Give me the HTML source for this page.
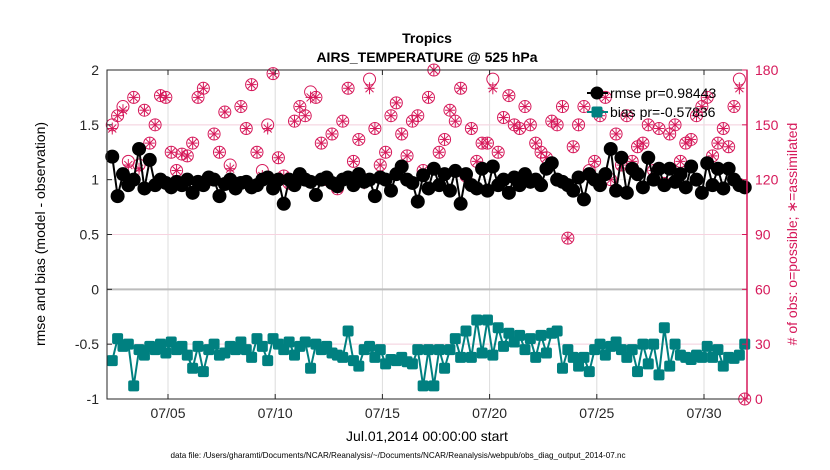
<!DOCTYPE html>
<html><head><meta charset="utf-8"><style>
body{margin:0;background:#fff;}
svg{display:block;font-family:"Liberation Sans",Arial,sans-serif;}
</style></head><body>
<svg id="chart" width="830" height="470" viewBox="0 0 830 470">
<g id="grid"></g>
<g id="marks"></g>
<g id="axes"></g>
<text x="427" y="43" text-anchor="middle" font-size="14" font-weight="bold">Tropics</text>
<text x="427" y="62" text-anchor="middle" font-size="14" font-weight="bold">AIRS_TEMPERATURE @ 525 hPa</text>
<text x="427" y="441" text-anchor="middle" font-size="14">Jul.01,2014 00:00:00 start</text>
<text x="398" y="458" text-anchor="middle" font-size="8.1">data file: /Users/gharamti/Documents/NCAR/Reanalysis/~/Documents/NCAR/Reanalysis/webpub/obs_diag_output_2014-07.nc</text>
<text transform="translate(45,234) rotate(-90)" text-anchor="middle" font-size="14">rmse and bias (model - observation)</text>
<text transform="translate(797,234) rotate(-90)" text-anchor="middle" font-size="14" fill="#d6195a"># of obs: o=possible; ∗=assimilated</text>
<g id="legend"></g>
</svg>
<script>
const rmse=[1.21,0.85,1.05,0.95,1.0,1.28,0.92,1.18,0.95,1.0,0.97,0.93,0.98,0.95,1.0,0.88,0.98,0.95,1.02,1.0,0.85,0.96,1.0,0.92,0.97,0.98,0.93,0.95,1.0,1.02,
0.92,1.0,0.78,1.0,0.95,1.05,1.0,0.98,0.86,1.0,1.02,0.97,0.94,1.0,1.02,0.95,1.05,0.98,1.0,0.85,1.02,1.0,0.9,1.05,1.12,1.0,0.97,0.8,1.04,0.92,
1.1,0.95,1.05,0.9,1.08,0.78,1.05,0.95,0.92,1.1,0.9,1.12,0.95,1.0,0.88,1.02,0.95,1.05,0.98,1.0,0.95,1.1,1.15,1.0,0.98,0.95,0.9,1.02,0.82,1.05,
1.0,0.95,1.05,1.28,0.9,1.2,0.88,1.1,1.05,0.93,1.2,1.0,1.1,0.95,1.1,0.98,1.05,0.93,1.12,1.0,0.88,1.15,0.95,1.1,0.92,1.1,1.0,0.95,0.93];
const bias=[-0.65,-0.45,-0.52,-0.5,-0.88,-0.55,-0.6,-0.52,-0.55,-0.5,-0.58,-0.48,-0.55,-0.52,-0.6,-0.72,-0.52,-0.75,-0.55,-0.5,-0.6,-0.58,-0.52,-0.55,-0.48,-0.55,-0.62,-0.45,-0.52,-0.65,
-0.45,-0.5,-0.55,-0.48,-0.6,-0.52,-0.48,-0.72,-0.5,-0.55,-0.52,-0.58,-0.6,-0.62,-0.38,-0.65,-0.7,-0.55,-0.52,-0.62,-0.55,-0.68,-0.64,-0.65,-0.62,-0.66,-0.68,-0.55,-0.88,-0.55,
-0.88,-0.55,-0.72,-0.55,-0.45,-0.62,-0.38,-0.62,-0.28,-0.58,-0.28,-0.6,-0.35,-0.52,-0.4,-0.48,-0.42,-0.55,-0.45,-0.62,-0.42,-0.58,-0.4,-0.38,-0.72,-0.55,-0.62,-0.7,-0.62,-0.75,
-0.55,-0.5,-0.6,-0.52,-0.48,-0.55,-0.62,-0.55,-0.75,-0.5,-0.68,-0.5,-0.78,-0.35,-0.7,-0.5,-0.6,-0.62,-0.64,-0.6,-0.62,-0.52,-0.62,-0.55,-0.7,-0.62,-0.63,-0.6,-0.5];
const possible=[150,155,160,130,165,128,158,140,150,166,165,135,125,134,133,140,165,170,120,145,135,157,128,118,160,148,172,135,125,150,
178,132,122,118,152,160,155,168,165,140,120,145,115,152,170,130,142,120,175,148,128,135,155,162,145,133,152,155,125,165,
180,135,142,158,152,170,122,148,130,140,140,175,135,154,166,150,148,160,150,140,135,132,152,150,160,88,138,150,160,125,
130,155,165,120,145,128,155,130,138,140,150,125,148,118,145,150,130,140,142,155,160,165,133,140,148,138,160,175,0];
const assimilated=[148,155,158,128,165,126,158,140,150,166,165,135,125,134,133,140,165,170,120,145,135,157,126,118,160,148,172,135,122,148,
178,132,122,118,152,160,155,165,165,140,120,145,115,152,170,130,142,118,170,148,128,135,155,162,145,133,152,155,125,165,
180,135,142,158,152,170,122,148,130,140,140,170,135,154,166,150,148,160,150,140,135,132,152,150,160,88,138,150,160,122,
130,155,165,120,145,128,155,130,138,140,150,125,148,118,145,150,130,140,142,155,160,165,133,140,148,138,160,170,0];
const dayTicks=[5,10,15,20,25,30];
const dayLabels=["07/05","07/10","07/15","07/20","07/25","07/30"];
const leftTicks=[-1,-0.5,0,0.5,1,1.5,2];
const rightTicks=[0,30,60,90,120,150,180];

const NS="http://www.w3.org/2000/svg";
const L=107,R=747,T=70,B=399;
const firstDay=2.4, stepDay=0.25;
const xDay=d=>168+(d-5)*21.44;
const xi=i=>xDay(firstDay+i*stepDay);
const yL=v=>B-(v+1)/3*(B-T);
const yR=v=>B-v/180*(B-T);
function mk(tag,attrs,parent){const e=document.createElementNS(NS,tag);for(const k in attrs)e.setAttribute(k,attrs[k]);parent.appendChild(e);return e;}
const grid=document.getElementById('grid'),marks=document.getElementById('marks'),axes=document.getElementById('axes'),legend=document.getElementById('legend');
const MAG="#d6195a",TEAL="#008080";

dayTicks.forEach(d=>{const l=mk('line',{x1:xDay(d),x2:xDay(d),y1:T,y2:B,stroke:'#dcdcdc','stroke-width':1},grid);
});
leftTicks.forEach(v=>{const l=mk('line',{x1:L,x2:R,y1:yL(v),y2:yL(v),stroke:v===0?'#bcbcbc':'#e8e8e8','stroke-width':v===0?2:1},grid);
});
rightTicks.forEach(v=>{if(v%60===0)return;const l=mk('line',{x1:L,x2:R,y1:yR(v),y2:yR(v),stroke:'#f7d3e0','stroke-width':1},grid);
});

possible.forEach((v,i)=>{const c=mk('circle',{cx:xi(i),cy:yR(v),r:6,fill:'none',stroke:MAG,'stroke-width':1},marks);
});
assimilated.forEach((v,i)=>{const x=xi(i),y=yR(v),g=mk('g',{stroke:MAG,'stroke-width':1},marks);

mk('line',{x1:x-5,x2:x+5,y1:y,y2:y},g);mk('line',{x1:x,x2:x,y1:y-6,y2:y+6},g);
mk('line',{x1:x-4,x2:x+4,y1:y-4,y2:y+4},g);mk('line',{x1:x-4,x2:x+4,y1:y+4,y2:y-4},g);});

const rl=mk('polyline',{points:rmse.map((v,i)=>xi(i)+','+yL(v)).join(' '),fill:'none',stroke:'#000','stroke-width':2},marks);

rmse.forEach((v,i)=>{const c=mk('circle',{cx:xi(i),cy:yL(v),r:7,fill:'#000'},marks);
});
const bl=mk('polyline',{points:bias.map((v,i)=>xi(i)+','+yL(v)).join(' '),fill:'none',stroke:TEAL,'stroke-width':2},marks);

bias.forEach((v,i)=>{const s=mk('rect',{x:xi(i)-5.5,y:yL(v)-5.5,width:11,height:11,rx:2,fill:TEAL},marks);
});

const fr=mk('rect',{x:L,y:T,width:R-L,height:B-T,fill:'none',stroke:'#262626','stroke-width':1},axes);

const ra=mk('line',{x1:R,x2:R,y1:T,y2:B,stroke:MAG,'stroke-width':1.5},axes);

leftTicks.forEach(v=>{const t=mk('text',{x:L-8,y:yL(v)+5,'text-anchor':'end','font-size':14,fill:'#262626'},axes);t.textContent=String(v);

mk('line',{x1:L,x2:L+5,y1:yL(v),y2:yL(v),stroke:'#262626'},axes);});
rightTicks.forEach(v=>{const t=mk('text',{x:R+8,y:yR(v)+5,'font-size':14,fill:MAG},axes);t.textContent=String(v);

mk('line',{x1:R-5,x2:R,y1:yR(v),y2:yR(v),stroke:MAG},axes);});
dayTicks.forEach((d,k)=>{const t=mk('text',{x:xDay(d),y:B+19,'text-anchor':'middle','font-size':14,fill:'#262626'},axes);t.textContent=dayLabels[k];

mk('line',{x1:xDay(d),x2:xDay(d),y1:B,y2:B-5,stroke:'#262626'},axes);mk('line',{x1:xDay(d),x2:xDay(d),y1:T,y2:T+5,stroke:'#262626'},axes);});

const lg1=mk('g',{},legend);
mk('line',{x1:587,x2:608,y1:93,y2:93,stroke:'#000','stroke-width':2},lg1);mk('circle',{cx:597,cy:93,r:6.5,fill:'#000'},lg1);
const t1=mk('text',{x:610,y:98,'font-size':14},lg1);t1.textContent='rmse pr=0.98443';
const lg2=mk('g',{},legend);
mk('line',{x1:587,x2:608,y1:112,y2:112,stroke:TEAL,'stroke-width':2},lg2);mk('rect',{x:591.5,y:106.5,width:11,height:11,rx:2,fill:TEAL},lg2);
const t2=mk('text',{x:610,y:117,'font-size':14},lg2);t2.textContent='bias pr=-0.57836';
</script>
</body></html>
